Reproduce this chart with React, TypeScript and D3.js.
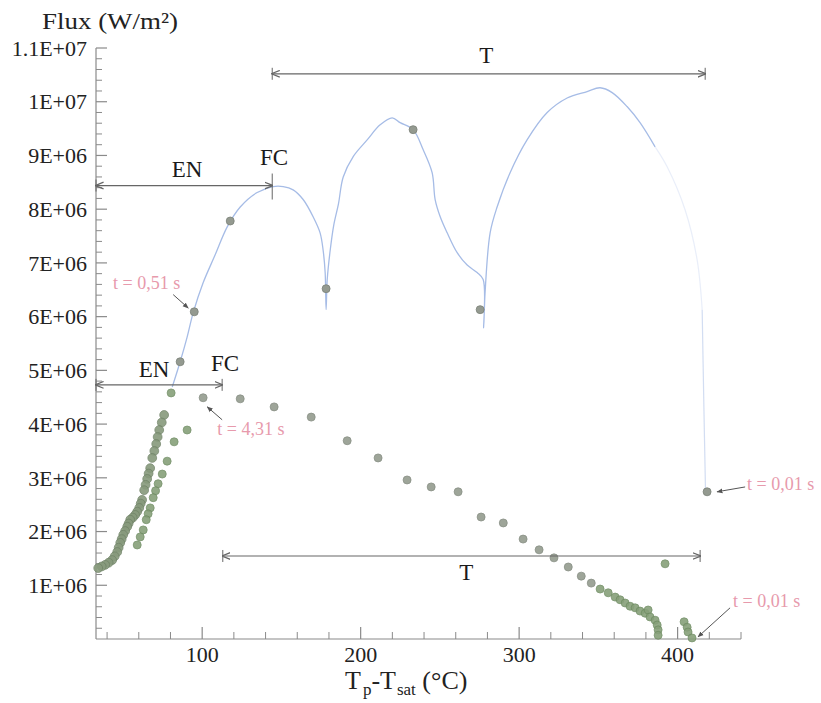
import React from "react";
import * as d3 from "d3";

// ---- data (x: Tp - Tsat in °C, y: flux in W/m²) ----
const upperLineX = [81.1, 86.1, 90.5, 94.3, 100.6, 108.2, 115.8, 124.0, 134.7, 144.8, 151.1, 157.4, 163.7, 170.0, 174.4, 176.3, 177.6, 178.2, 178.9, 180.8, 183.0, 186.0, 189.0, 195.3, 204.1, 212.3, 219.9, 224.9, 233.1, 239.4, 245.1, 247.0, 250.2, 254.6, 260.9, 267.2, 273.5, 277.3, 277.6, 278.5, 281.7, 286.1, 294.3, 305.0, 317.7, 330.3, 342.9, 351.1, 358.7, 368.1, 376.3, 385.8];
const upperLineY = [4.69e6, 5.16e6, 5.62e6, 6.07e6, 6.63e6, 7.15e6, 7.67e6, 8.04e6, 8.31e6, 8.42e6, 8.42e6, 8.36e6, 8.18e6, 7.86e6, 7.56e6, 7.24e6, 6.82e6, 6.13e6, 6.69e6, 7.24e6, 7.7e6, 8.1e6, 8.6e6, 8.98e6, 9.29e6, 9.57e6, 9.7e6, 9.61e6, 9.48e6, 9.11e6, 8.68e6, 8.18e6, 7.86e6, 7.56e6, 7.19e6, 6.96e6, 6.82e6, 6.69e6, 5.79e6, 6.44e6, 7.56e6, 8.04e6, 8.68e6, 9.29e6, 9.8e6, 1.007e7, 1.019e7, 1.026e7, 1.017e7, 9.91e6, 9.61e6, 9.16e6];
// faint tail of the upper curve (towards t = 0,01 s)
const upperTailX = [385.8, 393.4, 404.7, 412.3, 415.5];
const upperTailY = [9.16e6, 8.79e6, 7.99e6, 7.06e6, 6.13e6];
const upperDropX = [415.5, 416.5, 417.6];
const upperDropY = [6.13e6, 4.45e6, 2.77e6];

const upperPointsX = [86.1, 95.0, 117.7, 178.2, 233.1, 275.4, 418.6];
const upperPointsY = [5.16e6, 6.09e6, 7.78e6, 6.52e6, 9.48e6, 6.13e6, 2.74e6];

const clusterAX = [76.0, 74.5, 72.9, 71.9, 71.0, 69.8, 68.5, 67.2, 66.2, 65.3, 64.3, 63.4, 62.1, 61.2, 60.3, 59.0, 57.7, 56.2, 54.6, 53.6, 52.7, 51.4, 50.2, 49.2, 48.3, 47.3, 46.4, 44.8, 43.2, 41.0, 38.8, 36.6, 34.4];
const clusterAY = [4.17e6, 4.03e6, 3.89e6, 3.76e6, 3.63e6, 3.5e6, 3.37e6, 3.18e6, 3.08e6, 2.98e6, 2.87e6, 2.77e6, 2.59e6, 2.52e6, 2.44e6, 2.37e6, 2.31e6, 2.26e6, 2.22e6, 2.15e6, 2.09e6, 2.01e6, 1.94e6, 1.86e6, 1.79e6, 1.7e6, 1.62e6, 1.54e6, 1.47e6, 1.42e6, 1.38e6, 1.35e6, 1.32e6];

const lowerPointsX = [90.5, 82.3, 77.9, 74.8, 72.2, 70.6, 69.1, 67.2, 65.9, 64.7, 62.8, 60.9, 59.0, 80.4, 100.6, 124.0, 145.4, 168.8, 191.5, 211.0, 229.3, 244.5, 261.5, 276.0, 290.0, 302.5, 312.6, 322.0, 331.0, 339.2, 345.5, 351.1, 356.2, 360.6, 363.7, 366.9, 370.0, 373.2, 376.3, 379.5, 381.4, 382.6, 385.8, 387.1, 387.7, 387.7, 392.1, 404.1, 406.0, 406.6, 409.1];
const lowerPointsY = [3.89e6, 3.67e6, 3.31e6, 3.07e6, 2.89e6, 2.76e6, 2.63e6, 2.44e6, 2.33e6, 2.22e6, 2.03e6, 1.9e6, 1.75e6, 4.58e6, 4.49e6, 4.47e6, 4.32e6, 4.13e6, 3.69e6, 3.37e6, 2.96e6, 2.83e6, 2.74e6, 2.27e6, 2.16e6, 1.86e6, 1.66e6, 1.51e6, 1.34e6, 1.17e6, 1.04e6, 0.93e6, 0.86e6, 0.78e6, 0.73e6, 0.67e6, 0.61e6, 0.58e6, 0.52e6, 0.48e6, 0.54e6, 0.41e6, 0.35e6, 0.26e6, 0.17e6, 0.07e6, 1.40e6, 0.32e6, 0.22e6, 0.13e6, 0.02e6];

const xMajorTicks = [100, 200, 300, 400];
const yMajorTicks = [1e6, 2e6, 3e6, 4e6, 5e6, 6e6, 7e6, 8e6, 9e6, 1e7, 1.1e7];

// phase brackets
const bracketX1 = [33, 144.2, 33, 113];
const bracketX2 = [144.2, 417.4, 112.6, 414.2];
const bracketY = [8.44e6, 1.052e7, 4.73e6, 1.545e6];

const phaseLabels = ["EN", "FC", "T", "EN", "FC", "T"];
const phaseX = [90.5, 145.4, 279.2, 69.7, 114.5, 266.6];
const phaseY = [8.6e6, 8.83e6, 1.073e7, 4.88e6, 4.99e6, 1.1e6];

const timeLabels = ["t = 0,51 s", "t = 4,31 s", "t = 0,01 s", "t = 0,01 s"];
const timeLabelX = [43.8, 109.5, 443.8, 435.0];
const timeLabelY = [6.52e6, 3.8e6, 2.77e6, 0.6e6];
const arrowFromX = [81.7, 112.6, 442.6, 433.1];
const arrowFromY = [6.41e6, 4.08e6, 2.83e6, 0.58e6];
const arrowToX = [91.2, 103.2, 424.9, 412.9];
const arrowToY = [6.16e6, 4.32e6, 2.74e6, 0.04e6];

const W = 821;
const H = 703;
const FONT = "Liberation Serif, DejaVu Serif, serif";

function fmtSci(v: number): string {
  const e = Math.floor(Math.log10(v) + 1e-9);
  const m = v / Math.pow(10, e);
  return `${+m.toFixed(1)}E+${String(e).padStart(2, "0")}`;
}

export default function App() {
  const x = d3.scaleLinear().domain([33, 440]).range([96, 741]);
  const y = d3.scaleLinear().domain([0, 1.1e7]).range([639, 48]);

  const xMinor = d3.range(40, 441, 20).filter((v) => !xMajorTicks.includes(v));
  const yMinor = d3.range(2e5, 1.1e7 + 1, 2e5).filter((v) => Math.abs(v / 1e6 - Math.round(v / 1e6)) > 1e-6);

  const mk = (xs: number[], ys: number[]) =>
    d3
      .line<[number, number]>()
      .x((d) => x(d[0]))
      .y((d) => y(d[1]))
      .curve(d3.curveCatmullRom.alpha(0.5))(xs.map((v, i) => [v, ys[i]] as [number, number])) ?? "";

  const axisColor = "#8a8a8a";
  const pinkColor = "#e79aac";
  const txt = { fontFamily: FONT };

  return (
    <svg width={W} height={H} style={{ position: "absolute", left: 0, top: 0, background: "#fff", fontFamily: FONT }}>
      <defs>
        <marker id="arrHead" viewBox="0 0 10 10" refX="9" refY="5" markerWidth="7" markerHeight="7" orient="auto-start-reverse">
          <path d="M0,1 L10,5 L0,9" fill="none" stroke="#666" strokeWidth="1.5" />
        </marker>
        <marker id="arrSmall" viewBox="0 0 10 10" refX="9" refY="5" markerWidth="6" markerHeight="6" orient="auto">
          <path d="M0,1 L10,5 L0,9 z" fill="#555" />
        </marker>
      </defs>

      {/* axes */}
      <line x1={x(33)} x2={x(33)} y1={y(0)} y2={y(1.1e7)} stroke={axisColor} strokeWidth={1.2} />
      <line x1={x(33)} x2={x(440)} y1={y(0)} y2={y(0)} stroke={axisColor} strokeWidth={1.2} />

      {yMajorTicks.map((v) => (
        <g key={"ym" + v}>
          <line x1={x(33)} x2={x(33) + 11} y1={y(v)} y2={y(v)} stroke={axisColor} strokeWidth={1.2} />
          <text x={x(33) - 9} y={y(v)} dy="0.35em" textAnchor="end" fontSize={22} fill="#222" style={txt}>
            {fmtSci(v)}
          </text>
        </g>
      ))}
      {yMinor.map((v) => (
        <line key={"yn" + v} x1={x(33)} x2={x(33) + 6} y1={y(v)} y2={y(v)} stroke={axisColor} strokeWidth={1} />
      ))}
      {xMajorTicks.map((v) => (
        <g key={"xm" + v}>
          <line x1={x(v)} x2={x(v)} y1={y(0)} y2={y(0) - 12} stroke={axisColor} strokeWidth={1.2} />
          <text x={x(v)} y={y(0) + 23} textAnchor="middle" fontSize={22} fill="#222" style={txt}>
            {v}
          </text>
        </g>
      ))}
      {xMinor.map((v) => (
        <line key={"xn" + v} x1={x(v)} x2={x(v)} y1={y(0)} y2={y(0) - 7} stroke={axisColor} strokeWidth={1} />
      ))}

      {/* axis titles */}
      <text x={42} y={29} fontSize={23} fill="#222" style={txt} textLength={136} lengthAdjust="spacingAndGlyphs">
        Flux (W/m²)
      </text>
      <text x={345} y={689} fontSize={26} fill="#222" style={txt}>
        <tspan>T</tspan>
        <tspan fontSize={17} dx={2} dy={6}>p</tspan>
        <tspan dy={-6}>-T</tspan>
        <tspan fontSize={17} dx={1} dy={6}>sat</tspan>
        <tspan dy={-6}> (°C)</tspan>
      </text>

      {/* upper curve */}
      <path d={mk(upperLineX, upperLineY)} fill="none" stroke="#a6bce6" strokeWidth={1.3} />
      <path d={mk(upperTailX, upperTailY)} fill="none" stroke="#a6bce6" strokeWidth={1.2} opacity={0.25} />
      <path d={mk(upperDropX, upperDropY)} fill="none" stroke="#a6bce6" strokeWidth={1.2} opacity={0.5} />

      {/* points */}
      {clusterAX.map((v, i) => (
        <circle key={"ca" + i} cx={x(v)} cy={y(clusterAY[i])} r={4.4} fill="#879a7c" stroke="#6f8266" strokeWidth={0.8} opacity={0.9} />
      ))}
      {lowerPointsX.map((v, i) => (
        <circle key={"lp" + i} cx={x(v)} cy={y(lowerPointsY[i])} r={4} fill={v > 350 || v < 95 ? "#87a07a" : "#949c8f"} stroke={v > 350 || v < 95 ? "#6c8a60" : "#7d857a"} strokeWidth={0.8} opacity={0.9} />
      ))}
      {upperPointsX.map((v, i) => (
        <circle key={"up" + i} cx={x(v)} cy={y(upperPointsY[i])} r={4} fill="#949a90" stroke="#7b8178" strokeWidth={0.8} />
      ))}

      {/* brackets */}
      {bracketX1.map((v, i) => (
        <g key={"br" + i}>
          <line x1={x(v)} x2={x(bracketX2[i])} y1={y(bracketY[i])} y2={y(bracketY[i])} stroke="#666" strokeWidth={1.2} markerStart="url(#arrHead)" markerEnd="url(#arrHead)" />
          <line x1={x(v)} x2={x(v)} y1={y(bracketY[i]) - 6} y2={y(bracketY[i]) + 6} stroke="#666" strokeWidth={1} />
          <line x1={x(bracketX2[i])} x2={x(bracketX2[i])} y1={y(bracketY[i]) - (i === 0 ? 12 : 6)} y2={y(bracketY[i]) + (i === 0 ? 14 : 6)} stroke="#666" strokeWidth={1} />
        </g>
      ))}
      {phaseLabels.map((s, i) => (
        <text key={"ph" + i} x={x(phaseX[i])} y={y(phaseY[i])} textAnchor="middle" fontSize={23} fill="#1a1a1a" style={txt}>
          {s}
        </text>
      ))}

      {/* time labels */}
      {timeLabels.map((s, i) => (
        <g key={"tl" + i}>
          <line x1={x(arrowFromX[i])} y1={y(arrowFromY[i])} x2={x(arrowToX[i])} y2={y(arrowToY[i])} stroke="#555" strokeWidth={1} markerEnd="url(#arrSmall)" />
          <text x={x(timeLabelX[i])} y={y(timeLabelY[i])} fontSize={18} fill={pinkColor} style={txt}>
            {s}
          </text>
        </g>
      ))}
    </svg>
  );
}
